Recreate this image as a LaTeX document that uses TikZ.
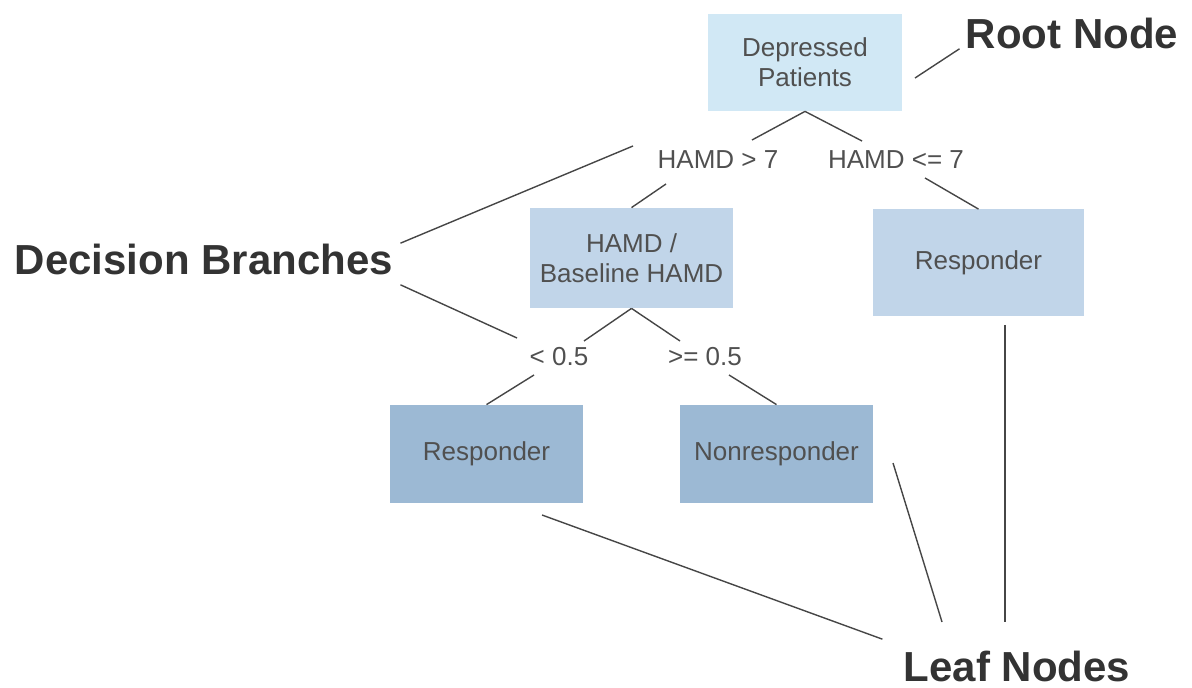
\documentclass[tikz,border=0pt]{standalone}
\usepackage{fontspec}
\setmainfont{Liberation Sans}
\usetikzlibrary{positioning,calc}
\definecolor{rootfill}{RGB}{209,232,245}
\definecolor{midfill}{RGB}{193,213,233}
\definecolor{leaffill}{RGB}{156,185,212}
\definecolor{nodetext}{RGB}{80,80,80}
\definecolor{calltext}{RGB}{51,51,51}
\definecolor{linegray}{RGB}{70,70,70}

\begin{document}
\begin{tikzpicture}[x=0.5pt,y=-0.5pt,font=\fontsize{13}{15}\selectfont]
\tikzstyle{box}=[inner sep=0pt,align=center,text=nodetext]
\tikzstyle{rootbox}=[box,fill=rootfill,minimum width=97pt,minimum height=48.5pt]
\tikzstyle{splitbox}=[box,fill=midfill,minimum width=101.5pt,minimum height=50pt]
\tikzstyle{leafbox}=[box,fill=leaffill,minimum width=96.5pt,minimum height=49pt]
\tikzstyle{cond}=[inner sep=0pt,text=nodetext]
\tikzstyle{callout}=[inner sep=0pt,text=calltext,font=\bfseries\fontsize{21}{25}\selectfont]
\tikzstyle{link}=[draw=linegray,line width=0.7pt]
\useasboundingbox (0,0) rectangle (1192,688);
% tree
\node[rootbox] (root) at (805,62.5) {Depressed\\Patients};
\node[splitbox] (ratio) at (631.5,258) {HAMD /\\Baseline HAMD};
\node[splitbox,minimum width=105.5pt,minimum height=53.5pt] (resp1) at (978.5,263) {Responder};
\node[leafbox] (resp2) at (486.5,454) {Responder};
\node[leafbox] (nonresp) at (776.5,454) {Nonresponder};
\node[cond] (gt7) at (718,160) {HAMD > 7};
\node[cond] (le7) at (896,160) {HAMD <= 7};
\node[cond] (lt05) at (559,357) {< 0.5};
\node[cond] (ge05) at (705,357) {>= 0.5};
\coordinate (gt7a) at (752,140);
\coordinate (gt7b) at (666,184);
\coordinate (le7a) at (862,141);
\coordinate (le7b) at (925,178);
\coordinate (lt05a) at (584,341);
\coordinate (lt05b) at (534,375);
\coordinate (ge05a) at (680,341);
\coordinate (ge05b) at (729,375);
\draw[link] (root.south) -- (gt7a);
\draw[link] (gt7b) -- (ratio.north);
\draw[link] (root.south) -- (le7a);
\draw[link] (le7b) -- (resp1.north);
\draw[link] (ratio.south) -- (lt05a);
\draw[link] (lt05b) -- (resp2.north);
\draw[link] (ratio.south) -- (ge05a);
\draw[link] (ge05b) -- (nonresp.north);
% callouts
\node[callout] (rootlbl) at (1072,33) {Root Node};
\node[callout] (branchlbl) at (204,259) {Decision Branches};
\node[callout] (leaflbl) at (1017,666) {Leaf Nodes};
\coordinate (rootptr) at (915,78);
\coordinate (branchptr1) at (633,146);
\coordinate (branchptr2) at (517,338);
\coordinate (leafptr1) at (542,515);
\coordinate (leafptr2) at (893,463);
\coordinate (leafptr3) at (1005,325);
\draw[link] (rootptr) -- ($(rootlbl.south west)+(-6,0)$);
\draw[link] ($(branchlbl.north east)+(7,0)$) -- (branchptr1);
\draw[link] ($(branchlbl.south east)+(7,10)$) -- (branchptr2);
\draw[link] (leafptr1) -- ($(leaflbl.north west)+(-21,-11)$);
\draw[link] (leafptr2) -- (942,622);
\draw[link] (leafptr3) -- (1005,622);
\end{tikzpicture}
\end{document}
